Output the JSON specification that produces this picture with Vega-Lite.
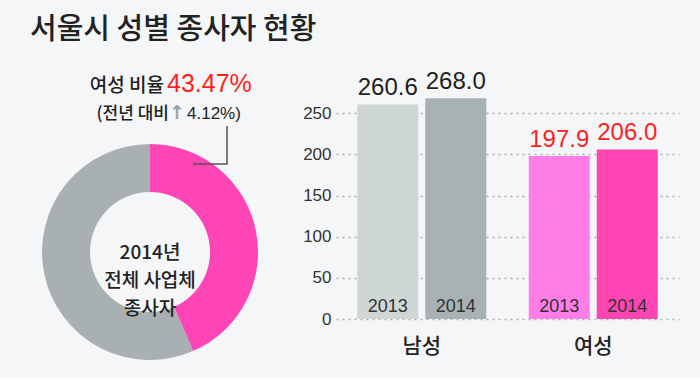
{
  "$schema": "https://vega.github.io/schema/vega-lite/v6.json",
  "background": "#f5f6f7",
  "padding": {"left": 0, "right": 22, "top": 16, "bottom": 18},
  "title": {"text": "서울시 성별 종사자 현황", "anchor": "start", "frame": "group", "fontSize": 29, "font": "Noto Sans CJK KR", "fontWeight": 500, "color": "#222222", "dx": 30, "offset": 25},
  "config": {"view": {"stroke": null}},
  "spacing": 2,
  "resolve": {"scale": {"x": "independent", "y": "independent", "color": "independent"}},
  "hconcat": [
    {
      "width": 300,
      "height": 247,
      "data": {"values": [{"sex": "여성", "share": 43.47}, {"sex": "남성", "share": 56.53}]},
      "layer": [
        {
          "mark": {"type": "arc", "outerRadius": 108, "innerRadius": 60},
          "encoding": {
            "x": {"datum": 150, "type": "quantitative", "scale": {"domain": [0, 300], "nice": false, "zero": false}, "axis": null},
            "y": {"datum": 180, "type": "quantitative", "scale": {"domain": [0, 247], "nice": false, "zero": false, "reverse": true}, "axis": null},
            "theta": {"field": "share", "type": "quantitative", "stack": true},
            "order": {"field": "share", "sort": "ascending"},
            "color": {"field": "sex", "type": "nominal", "scale": {"domain": ["여성", "남성"], "range": ["#ff45b5", "#a8b0b2"]}, "legend": null}
          }
        },
        {
          "data": {"values": [{"t": ["2014년", "전체 사업체", "종사자"]}]},
          "mark": {"type": "text", "font": "Noto Sans CJK KR", "fontSize": 19, "fontWeight": 500, "lineHeight": 28, "baseline": "middle", "align": "center", "color": "#222222"},
          "encoding": {"x": {"datum": 150}, "y": {"datum": 181}, "text": {"field": "t"}}
        },
        {
          "data": {"values": [{"t": "여성 비율"}]},
          "mark": {"type": "text", "font": "Noto Sans CJK KR", "fontSize": 19, "fontWeight": 500, "baseline": "alphabetic", "align": "right", "color": "#222222"},
          "encoding": {"x": {"datum": 164}, "y": {"datum": 20}, "text": {"field": "t"}}
        },
        {
          "data": {"values": [{"t": "43.47%"}]},
          "mark": {"type": "text", "font": "Liberation Sans", "fontSize": 25, "baseline": "alphabetic", "align": "left", "color": "#ff1e1e"},
          "encoding": {"x": {"datum": 167}, "y": {"datum": 20}, "text": {"field": "t"}}
        },
        {
          "data": {"values": [{"t": "(전년 대비"}]},
          "mark": {"type": "text", "font": "Noto Sans CJK KR", "fontSize": 17, "fontWeight": 500, "baseline": "alphabetic", "align": "right", "color": "#222222"},
          "encoding": {"x": {"datum": 169}, "y": {"datum": 47}, "text": {"field": "t"}}
        },
        {
          "data": {"values": [{"t": "↑"}]},
          "mark": {"type": "text", "font": "DejaVu Sans", "fontWeight": "bold", "fontSize": 19, "baseline": "alphabetic", "align": "center", "color": "#9aa3a6"},
          "encoding": {"x": {"datum": 177}, "y": {"datum": 47}, "text": {"field": "t"}}
        },
        {
          "data": {"values": [{"t": "4.12%)"}]},
          "mark": {"type": "text", "font": "Liberation Sans", "fontSize": 17, "baseline": "alphabetic", "align": "left", "color": "#222222"},
          "encoding": {"x": {"datum": 187}, "y": {"datum": 47}, "text": {"field": "t"}}
        },
        {
          "data": {"values": [{}]},
          "mark": {"type": "rule", "color": "#555555", "strokeWidth": 1.5},
          "encoding": {"x": {"datum": 227}, "y": {"datum": 54}, "y2": {"datum": 92}}
        },
        {
          "data": {"values": [{}]},
          "mark": {"type": "rule", "color": "#555555", "strokeWidth": 1.5},
          "encoding": {"x": {"datum": 193}, "x2": {"datum": 227.7}, "y": {"datum": 92}}
        }
      ]
    },
    {
      "width": 343,
      "height": 247,
      "data": {"values": [
        {"gender": "남성", "year": "2013", "value": 260.6, "series": "남성 2013"},
        {"gender": "남성", "year": "2014", "value": 268.0, "series": "남성 2014"},
        {"gender": "여성", "year": "2013", "value": 197.9, "series": "여성 2013"},
        {"gender": "여성", "year": "2014", "value": 206.0, "series": "여성 2014"}
      ]},
      "encoding": {
        "x": {"field": "gender", "type": "nominal", "sort": ["남성", "여성"], "title": null,
              "scale": {"type": "band", "paddingInner": 0, "paddingOuter": 0},
              "axis": {"domain": false, "ticks": false, "labelAngle": 0, "labelFont": "Noto Sans CJK KR", "labelFontSize": 21, "labelFontWeight": 500, "labelColor": "#222222", "labelPadding": 16}},
        "xOffset": {"field": "year", "type": "nominal", "scale": {"paddingInner": 0.103, "paddingOuter": 0.3125}}
      },
      "layer": [
        {
          "mark": {"type": "bar"},
          "encoding": {
            "y": {"field": "value", "type": "quantitative", "title": null,
                  "scale": {"domain": [0, 300], "nice": false},
                  "axis": {"values": [0, 50, 100, 150, 200, 250], "domain": false, "ticks": false, "tickSize": 0, "labelFont": "Liberation Sans", "labelFontSize": 17, "labelColor": "#333333", "labelPadding": 5, "grid": true, "gridDash": [2, 4], "gridColor": "#a9b0b3", "gridWidth": 1.5}},
            "color": {"field": "series", "type": "nominal", "legend": null,
                      "scale": {"domain": ["남성 2013", "남성 2014", "여성 2013", "여성 2014"], "range": ["#cfd6d6", "#a8b1b3", "#ff7de6", "#ff44b4"]}}
          }
        },
        {
          "mark": {"type": "text", "font": "Liberation Sans", "fontSize": 24, "baseline": "alphabetic", "dy": -9},
          "encoding": {
            "y": {"field": "value", "type": "quantitative"},
            "text": {"field": "value", "type": "quantitative", "format": ".1f"},
            "color": {"condition": {"test": "datum.gender === '여성'", "value": "#ff1e1e"}, "value": "#1e1e1e"}
          }
        },
        {
          "mark": {"type": "text", "font": "Liberation Sans", "fontSize": 18, "baseline": "alphabetic", "dy": -7, "color": "#333333"},
          "encoding": {
            "y": {"datum": 0},
            "text": {"field": "year"}
          }
        },
        {
          "mark": {"type": "rule", "color": "#8a969a", "strokeWidth": 2.5},
          "encoding": {"y": {"datum": 0}}
        }
      ]
    }
  ]
}
